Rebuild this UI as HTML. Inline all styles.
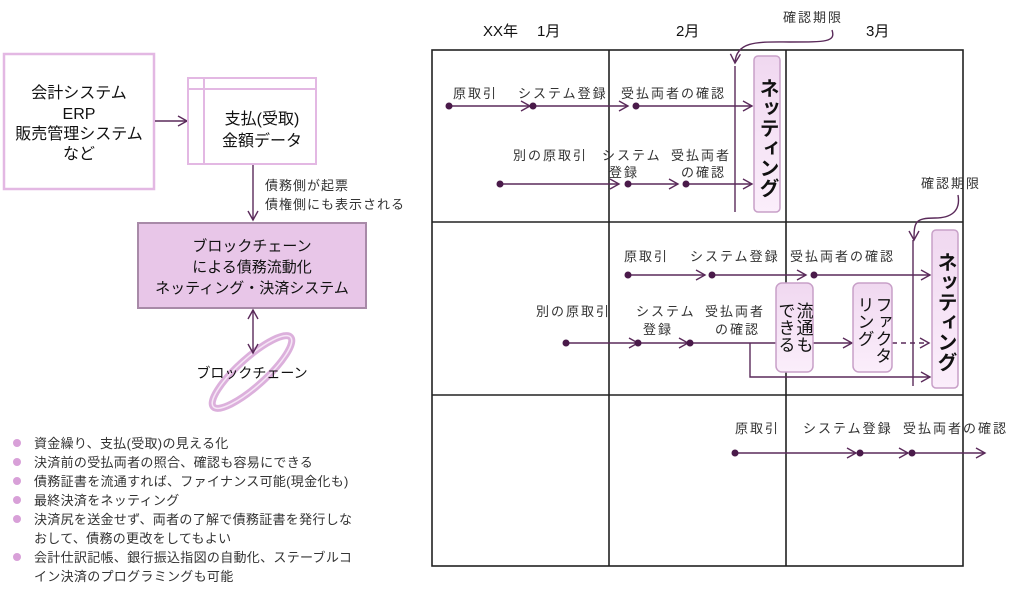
<!DOCTYPE html>
<html><head><meta charset="utf-8"><style>
body{margin:0;background:#fff;}
svg text{font-family:"Liberation Sans","Noto Sans CJK JP",sans-serif;}
</style></head><body>
<svg width="1024" height="592" viewBox="0 0 1024 592" xmlns="http://www.w3.org/2000/svg">
<defs>
<marker id="a" markerWidth="12" markerHeight="12" refX="10" refY="6" orient="auto" markerUnits="userSpaceOnUse"><path d="M1,1 L10,6 L1,11" fill="none" stroke="#5a2a5a" stroke-width="1.4"/></marker>
<marker id="as" markerWidth="12" markerHeight="12" refX="2" refY="6" orient="auto" markerUnits="userSpaceOnUse"><path d="M11,1 L2,6 L11,11" fill="none" stroke="#5a2a5a" stroke-width="1.4"/></marker>
<linearGradient id="bx" x1="0" y1="0" x2="0" y2="1"><stop offset="0" stop-color="#f0d8f0"/><stop offset="1" stop-color="#fbeefb"/></linearGradient>
</defs>
<!-- Left part -->
<rect x="4" y="54" width="150" height="135" fill="#fff" stroke="#e3b8e3" stroke-width="2.5"/>
<g font-size="16" text-anchor="middle" fill="#111">
<text x="79" y="98">会計システム</text>
<text x="79" y="119">ERP</text>
<text x="79" y="139">販売管理システム</text>
<text x="79" y="159">など</text>
</g>
<line x1="155" y1="121" x2="187" y2="121" stroke="#5a2a5a" stroke-width="1.4" marker-end="url(#a)"/>
<rect x="188" y="78" width="128" height="86" fill="#fff" stroke="#e3b8e3" stroke-width="2"/>
<line x1="188" y1="89" x2="316" y2="89" stroke="#e3b8e3" stroke-width="2"/>
<line x1="204" y1="78" x2="204" y2="164" stroke="#e3b8e3" stroke-width="2"/>
<g font-size="16" text-anchor="middle" fill="#111">
<text x="262" y="124">支払(受取)</text>
<text x="262" y="146">金額データ</text>
</g>
<line x1="253" y1="165" x2="253" y2="220" stroke="#5a2a5a" stroke-width="1.4" marker-end="url(#a)"/>
<g font-size="13" fill="#333" letter-spacing="1"><text x="265" y="190">債務側が起票</text><text x="265" y="209">債権側にも表示される</text></g>
<rect x="138" y="223" width="228" height="85" fill="#e8c6e8" stroke="#a88aa8" stroke-width="2"/>
<g font-size="15" text-anchor="middle" fill="#111">
<text x="252" y="251">ブロックチェーン</text>
<text x="252" y="272">による債務流動化</text>
<text x="252" y="293">ネッティング・決済システム</text>
</g>
<ellipse cx="252" cy="372" rx="52" ry="14" transform="rotate(-42 252 372)" fill="none" stroke="#dcb0dc" stroke-width="7"/>
<ellipse cx="252" cy="372" rx="52" ry="14" transform="rotate(-42 252 372)" fill="none" stroke="#f6e6f6" stroke-width="1.5"/>
<line x1="253" y1="310" x2="253" y2="353" stroke="#5a2a5a" stroke-width="1.4" marker-end="url(#a)" marker-start="url(#as)"/>
<text x="252" y="378" font-size="14" text-anchor="middle" fill="#111">ブロックチェーン</text>
<g font-size="13" fill="#333" letter-spacing="0.3">
<text x="34" y="448">資金繰り、支払(受取)の見える化</text>
<text x="34" y="467">決済前の受払両者の照合、確認も容易にできる</text>
<text x="34" y="486">債務証書を流通すれば、ファイナンス可能(現金化も)</text>
<text x="34" y="505">最終決済をネッティング</text>
<text x="34" y="524">決済尻を送金せず、両者の了解で債務証書を発行しな</text>
<text x="34" y="543">おして、債務の更改をしてもよい</text>
<text x="34" y="562">会計仕訳記帳、銀行振込指図の自動化、ステーブルコ</text>
<text x="34" y="581">イン決済のプログラミングも可能</text>
</g>
<g fill="#d8a0d8"><circle cx="17" cy="443" r="4"/><circle cx="17" cy="462" r="4"/><circle cx="17" cy="481" r="4"/><circle cx="17" cy="500" r="4"/><circle cx="17" cy="519" r="4"/><circle cx="17" cy="557" r="4"/></g>
<!-- Grid -->
<g font-size="15" fill="#111"><text x="483" y="36">XX年</text><text x="537" y="36">1月</text><text x="676" y="36">2月</text><text x="866" y="36">3月</text></g>
<g stroke="#222" stroke-width="1.6" fill="none">
<rect x="432" y="50" width="531" height="516"/>
<line x1="609" y1="50" x2="609" y2="566"/><line x1="786" y1="50" x2="786" y2="566"/>
<line x1="432" y1="222" x2="963" y2="222"/><line x1="432" y1="395" x2="963" y2="395"/>
</g>
<g font-size="13" fill="#333" letter-spacing="2">
<text x="783" y="22">確認期限</text>
<text x="921" y="188">確認期限</text>
<text x="453" y="98">原取引</text><text x="518" y="98">システム登録</text><text x="621" y="98">受払両者の確認</text>
<text x="513" y="160">別の原取引</text><text x="602" y="160">システム</text><text x="609" y="177">登録</text><text x="671" y="160">受払両者</text><text x="681" y="177">の確認</text>
<text x="624" y="261">原取引</text><text x="690" y="261">システム登録</text><text x="790" y="261">受払両者の確認</text>
<text x="536" y="316">別の原取引</text><text x="636" y="316">システム</text><text x="643" y="334">登録</text><text x="705" y="316">受払両者</text><text x="715" y="334">の確認</text>
<text x="735" y="433">原取引</text><text x="803" y="433">システム登録</text><text x="903" y="433">受払両者の確認</text>
</g>
<g stroke="#5a2a5a" stroke-width="1.4" fill="none">
<path d="M832,30 C836,42 826,42 790,42 C760,42 736,40 735,63" marker-end="url(#a)"/>
<line x1="735" y1="66" x2="735" y2="212"/>
<path d="M958,195 C961,212 950,218 935,218 C915,218 914,222 914,240" marker-end="url(#a)"/>
<line x1="913" y1="240" x2="913" y2="386"/>
<line x1="449" y1="106" x2="530" y2="106" marker-end="url(#a)"/>
<line x1="533" y1="106" x2="628" y2="106" marker-end="url(#a)"/>
<line x1="636" y1="106" x2="752" y2="106" marker-end="url(#a)"/>
<line x1="500" y1="184" x2="619" y2="184" marker-end="url(#a)"/>
<line x1="628" y1="184" x2="678" y2="184" marker-end="url(#a)"/>
<line x1="686" y1="184" x2="752" y2="184" marker-end="url(#a)"/>
<line x1="628" y1="275" x2="705" y2="275" marker-end="url(#a)"/>
<line x1="712" y1="275" x2="806" y2="275" marker-end="url(#a)"/>
<line x1="814" y1="275" x2="930" y2="275" marker-end="url(#a)"/>
<line x1="566" y1="343" x2="638" y2="343" marker-end="url(#a)"/>
<line x1="638" y1="343" x2="688" y2="343" marker-end="url(#a)"/>
<line x1="690" y1="343" x2="776" y2="343"/>
<line x1="813" y1="343" x2="852" y2="343" marker-end="url(#a)"/>
<line x1="892" y1="343" x2="929" y2="343" stroke-dasharray="5,4" marker-end="url(#a)"/>
<path d="M750,343 L750,377 L930,377" marker-end="url(#a)"/>
<line x1="735" y1="453" x2="856" y2="453" marker-end="url(#a)"/>
<line x1="860" y1="453" x2="908" y2="453" marker-end="url(#a)"/>
<line x1="912" y1="453" x2="985" y2="453" marker-end="url(#a)"/>
</g>
<g fill="#4a1a4a">
<circle cx="449" cy="106" r="3.5"/><circle cx="533" cy="106" r="3.5"/><circle cx="636" cy="106" r="3.5"/>
<circle cx="500" cy="184" r="3.5"/><circle cx="628" cy="184" r="3.5"/><circle cx="686" cy="184" r="3.5"/>
<circle cx="628" cy="275" r="3.5"/><circle cx="712" cy="275" r="3.5"/><circle cx="814" cy="275" r="3.5"/>
<circle cx="566" cy="343" r="3.5"/><circle cx="638" cy="343" r="3.5"/><circle cx="690" cy="343" r="3.5"/>
<circle cx="735" cy="453" r="3.5"/><circle cx="860" cy="453" r="3.5"/><circle cx="912" cy="453" r="3.5"/>
</g>
<g fill="url(#bx)" stroke="#c8a0c8" stroke-width="1.5">
<rect x="754" y="56" width="26" height="156" rx="4"/>
<rect x="932" y="230" width="26" height="158" rx="4"/>
<rect x="776" y="283" width="37" height="89" rx="6"/>
<rect x="853" y="283" width="39" height="89" rx="6"/>
</g>
<g font-size="20" font-weight="bold" fill="#111" style="writing-mode:vertical-rl">
<text x="767" y="78">ネッティング</text>
<text x="945" y="252">ネッティング</text>
</g>
<g font-size="17" fill="#111" style="writing-mode:vertical-rl">
<text x="803" y="302">流通も</text><text x="785" y="302">できる</text>
<text x="882" y="296">ファクタ</text><text x="864" y="296">リング</text>
</g>
</svg>
</body></html>
